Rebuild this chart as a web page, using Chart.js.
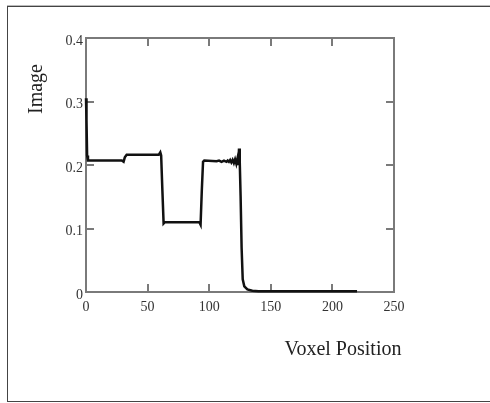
<!DOCTYPE html>
<html>
<head>
<meta charset="utf-8">
<script src="https://cdn.jsdelivr.net/npm/chart.js@4"></script>
<style>
  html, body { margin: 0; padding: 0; background: #fff; overflow: hidden; }
  #wrap { position: relative; width: 490px; height: 403px; overflow: hidden; }
  #frame { position: absolute; left: 7px; top: 6px; width: 700px; height: 394px; border: 1px solid #444; box-shadow: 0 -1px 0 #bbb; }
  canvas { position: absolute; left: 0; top: 0; }
</style>
</head>
<body>
<div id="wrap">
  <div id="frame"></div>
  <canvas id="chart" width="490" height="403"></canvas>
</div>
<script>
// voxel positions and image values
const voxelPos = [0, 0.4, 0.9, 1.6, 29, 30.5, 31.5, 33, 59, 60.3, 61, 62, 63, 64, 92, 93, 94, 95, 96,
  106, 108, 110, 112, 114, 115, 116, 117, 118, 119, 120, 121, 122, 123, 123.6, 124.2, 124.8, 125.5, 126.3, 127.2, 128.5,
  131, 135, 140, 220];
const imageVals = [0.305, 0.27, 0.215, 0.207, 0.207, 0.205, 0.212, 0.216, 0.216, 0.220, 0.215, 0.16, 0.108, 0.110, 0.110, 0.106, 0.16, 0.205, 0.207,
  0.206, 0.207, 0.205, 0.207, 0.205, 0.207, 0.205, 0.208, 0.204, 0.208, 0.203, 0.209, 0.202, 0.211, 0.200, 0.226, 0.205, 0.15, 0.07, 0.02, 0.009,
  0.004, 0.002, 0.001, 0.001];

const xTicks = [0, 50, 100, 150, 200, 250];
const yTicks = [0, 0.1, 0.2, 0.3, 0.4];

const serif = '"Liberation Serif", "DejaVu Serif", serif';

// box frame with inward ticks on all four sides (under the data)
const framePlugin = {
  id: 'frame',
  beforeDatasetsDraw(chart) {
    const { ctx, chartArea: a, scales } = chart;
    ctx.save();
    ctx.strokeStyle = '#7a7a7a';
    ctx.lineWidth = 2;
    ctx.strokeRect(a.left, a.top, a.right - a.left, a.bottom - a.top);
    const len = 8;
    ctx.beginPath();
    xTicks.forEach(v => {
      if (v === xTicks[0] || v === xTicks[xTicks.length - 1]) return;
      const px = Math.round(scales.x.getPixelForValue(v));
      ctx.moveTo(px, a.bottom); ctx.lineTo(px, a.bottom - len);
      ctx.moveTo(px, a.top); ctx.lineTo(px, a.top + len);
    });
    yTicks.forEach(v => {
      if (v === yTicks[0] || v === yTicks[yTicks.length - 1]) return;
      const py = Math.round(scales.y.getPixelForValue(v));
      ctx.moveTo(a.left, py); ctx.lineTo(a.left + len, py);
      ctx.moveTo(a.right, py); ctx.lineTo(a.right - len, py);
    });
    ctx.stroke();
    ctx.restore();
  },
  afterDraw(chart) {
    const { ctx, chartArea: a } = chart;
    ctx.save();
    ctx.fillStyle = '#222';
    ctx.font = '20px ' + serif;
    ctx.textAlign = 'center';
    ctx.textBaseline = 'middle';
    ctx.fillText('Voxel Position', a.right - 51, a.bottom + 58);
    ctx.translate(a.left - 49, a.top + 51);
    ctx.rotate(-Math.PI / 2);
    ctx.fillText('Image', 0, 0);
    ctx.restore();
  }
};

new Chart(document.getElementById('chart'), {
  type: 'line',
  data: {
    datasets: [{
      data: voxelPos.map((x, i) => ({ x: x, y: imageVals[i] })),
      borderColor: '#111',
      borderWidth: 2.5,
      pointRadius: 0,
      tension: 0,
      fill: false,
      clip: 4
    }]
  },
  options: {
    responsive: false,
    animation: false,
    layout: { padding: { left: 0, top: 38, right: 96, bottom: 0 } },
    plugins: { legend: { display: false }, tooltip: { enabled: false } },
    scales: {
      x: {
        type: 'linear',
        min: 0, max: 250,
        afterFit: s => { s.height = 111; },
        afterBuildTicks: s => { s.ticks = xTicks.map(v => ({ value: v })); },
        grid: { display: false, tickLength: 0 },
        border: { display: false },
        ticks: { color: '#333', padding: 7, font: { family: serif, size: 14 }, maxRotation: 0 }
      },
      y: {
        min: 0, max: 0.4,
        afterFit: s => { s.width = 86; },
        afterBuildTicks: s => { s.ticks = yTicks.map(v => ({ value: v })); },
        grid: { display: false, tickLength: 0 },
        border: { display: false },
        ticks: { color: '#333', padding: 3, labelOffset: 3, font: { family: serif, size: 14 } }
      }
    }
  },
  plugins: [framePlugin]
});
</script>
</body>
</html>
